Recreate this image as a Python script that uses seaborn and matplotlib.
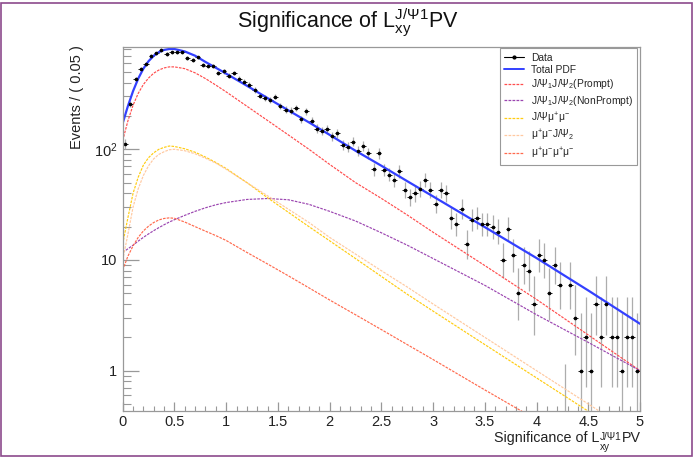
import numpy as np
import matplotlib
matplotlib.use('Agg')
import matplotlib.pyplot as plt
from matplotlib.lines import Line2D
from matplotlib.patches import Rectangle
from matplotlib.ticker import FixedLocator, MultipleLocator, LogLocator, NullFormatter
import seaborn as sns

# histogram: 100 bins of 0.05 between 0 and 5
bin_width = 0.05
counts = [112, 258, 430, 531, 589, 700, 734, 789, 726, 751,
          751, 751, 667, 644, 676, 581, 569, 569, 488, 505,
          462, 491, 433, 409, 384, 344, 305, 289, 281, 299,
          245, 228, 223, 235, 187, 220, 181, 154, 147, 152,
          131, 139, 109, 105, 117, 97, 107, 92, 66, 92,
          65, 59, 53, 63, 43, 37, 40, 44, 53, 43,
          32, 43, 40, 24, 21, 29, 14, 23, 24, 21,
          21, 20, 18, 10, 19, 11, 5, 9, 8, 4,
          11, 10, 5, 9, 6, 0, 6, 3, 1, 2,
          1, 4, 2, 4, 2, 2, 1, 2, 2, 1]

# fitted pdf curves (events / 0.05) read at these points
pdf_x = [0, 0.05, 0.1, 0.15, 0.2, 0.25, 0.3, 0.35, 0.4, 0.45, 0.5, 0.6, 0.7, 0.8, 0.9,
         1.0, 1.2, 1.4, 1.6, 1.8, 2.0, 2.25, 2.5, 2.75, 3.0, 3.5, 4.0, 4.5, 5.0]
total_pdf = [172, 245, 335, 435, 535, 625, 700, 755, 790, 805, 805, 765, 700, 615, 545,
             482, 375, 290, 225, 175, 135, 97, 71, 51.5, 37.5, 19.8, 10.4, 5.3, 2.65]
prompt = [120, 180, 250, 320, 385, 440, 487, 520, 543, 555, 555, 535, 490, 435, 380,
          330, 245, 182, 135, 100, 73, 50, 36, 25.5, 17.8, 8.9, 4.4, 2.1, 1.0]
nonprompt = [11.7, 12.6, 13.6, 14.8, 16.0, 17.2, 18.4, 19.6, 20.8, 22.0, 23.1, 25.3, 27.5, 29.6, 31.5,
             33.0, 35.2, 35.9, 35.0, 31.8, 27.5, 22.5, 17.6, 13.6, 10.3, 5.9, 3.2, 1.8, 1.0]
jpsi_mumu = [14, 24, 40, 56, 72, 84, 93, 100, 104, 107, 106, 101, 94, 85, 76,
             67, 50, 36.5, 27, 20, 14.9, 10.3, 7.1, 4.9, 3.45, 1.72, 0.86, 0.43, 0.22]
mumu_jpsi2 = [10, 17, 30, 44, 58, 71, 82, 90, 95, 99, 100, 97, 91, 83, 75,
              66, 50, 38, 28.8, 21.8, 16.0, 11.3, 8.0, 5.7, 4.0, 2.0, 1.0, 0.5, 0.25]
mu4 = [8.1, 10.8, 13.4, 16.0, 18.3, 20.2, 21.8, 23.0, 23.7, 24.0, 23.8, 22.0, 20.0, 18.2, 16.6,
       15.0, 11.7, 9.2, 7.2, 5.6, 4.35, 3.2, 2.35, 1.72, 1.26, 0.67, 0.36, 0.19, 0.1]

title = r'Significance of L$_{\mathrm{xy}}^{\mathrm{J/Ψ1}}$PV'

sns.set_style('ticks')
plt.rcParams['font.family'] = ['Liberation Sans', 'DejaVu Sans']
plt.rcParams['mathtext.fontset'] = 'custom'
plt.rcParams['mathtext.rm'] = 'Liberation Sans'
plt.rcParams['mathtext.it'] = 'Liberation Sans:italic'
plt.rcParams['mathtext.sf'] = 'Liberation Sans'

W, H = 699, 459
fig = plt.figure(figsize=(W / 100, H / 100), dpi=100)
ax = fig.add_axes([122.7 / W, 1 - 411 / H, (640 - 122.7) / W, (411 - 47.3) / H])

# data points with poisson errors
n = np.array(counts, dtype=float)
centers = bin_width * (np.arange(len(n)) + 0.5)
m = np.maximum(n, 1)
low = np.where(n > 0, n * (1 - 1 / (9 * m) - 1 / (3 * np.sqrt(m))) ** 3, 0.0)
high = np.where(n > 0, n + np.sqrt(n + 0.75) + 1, 1.148)
ax.errorbar(centers, n, yerr=[n - low, high - n], fmt='none', ecolor='0.68', elinewidth=0.9)
ax.errorbar(centers, n, xerr=bin_width / 2, fmt='o', color='black', ms=1.6,
            ecolor='#222222', elinewidth=0.7)

dash = (0, (2.2, 1.0))
curves = [
    (prompt, '#ff4d4d'),
    (nonprompt, '#9b45b0'),
    (jpsi_mumu, '#ffcc11'),
    (mumu_jpsi2, '#ffc9a0'),
    (mu4, '#ff6a4d'),
]
for vals, col in curves:
    sns.lineplot(x=pdf_x, y=vals, ax=ax, color=col, lw=0.85, linestyle=dash)
sns.lineplot(x=pdf_x, y=total_pdf, ax=ax, color='#3340ff', lw=1.6)

ax.set_yscale('log')
ax.set_xlim(0, 5)
ax.set_ylim(0.432, 834)
ax.xaxis.set_minor_locator(MultipleLocator(0.1))
ax.set_xticks([0, 0.5, 1, 1.5, 2, 2.5, 3, 3.5, 4, 4.5, 5])
ax.set_xticklabels(['0', '0.5', '1', '1.5', '2', '2.5', '3', '3.5', '4', '4.5', '5'])
ax.yaxis.set_major_locator(FixedLocator([1, 10, 100]))
ax.set_yticklabels(['1', '10', r'10$^{2}$'])
ax.yaxis.set_minor_locator(LogLocator(base=10, subs=np.arange(2, 10)))
ax.yaxis.set_minor_formatter(NullFormatter())
ax.tick_params(axis='both', which='both', direction='in', colors='#999999',
               labelcolor='#222222', labelsize=10.5, pad=4)
ax.tick_params(axis='x', which='major', pad=3)
ax.tick_params(axis='y', which='major', length=11.5, width=0.9)
ax.tick_params(axis='y', which='minor', length=6, width=0.8)
ax.tick_params(axis='x', which='major', length=6.7, width=0.9)
ax.tick_params(axis='x', which='minor', length=3.3, width=0.8)
for s in ax.spines.values():
    s.set_color('#999999')
    s.set_linewidth(0.9)
ax.set_xlabel('')
ax.set_ylabel('')

fig.text(348 / W, 1 - 28.3 / H, title, ha='center', va='baseline', fontsize=15.5, color='#111111')
fig.text(77 / W, 1 - 45 / H, 'Events / ( 0.05 )', rotation=90, ha='center', va='top',
         fontsize=10.5, color='#222222')

# x title built piece by piece, ROOT style (script letters kept close to the baseline)
base = 442
r = fig.canvas.get_renderer()
pv = fig.text(641 / W, 1 - base / H, 'PV', ha='right', va='baseline', fontsize=10.3, color='#222222')
x_pv = pv.get_window_extent(r).x0
sup = fig.text((x_pv - 0.5) / W, 1 - (base - 1.5) / H, 'J/Ψ1', ha='right', va='baseline',
               fontsize=7.2, color='#222222')
x_sup = sup.get_window_extent(r).x0
fig.text(x_sup / W, 1 - (base + 7.5) / H, 'xy', ha='left', va='baseline', fontsize=7.2, color='#222222')
fig.text((x_sup - 0.5) / W, 1 - base / H, 'Significance of L', ha='right', va='baseline',
         fontsize=10.3, color='#222222')

handles = [
    Line2D([], [], color='black', marker='o', ms=2, lw=0.8),
    Line2D([], [], color='#3340ff', lw=1.4),
    Line2D([], [], color='#ff4d4d', lw=0.9, linestyle=dash),
    Line2D([], [], color='#9b45b0', lw=0.9, linestyle=dash),
    Line2D([], [], color='#ffcc11', lw=0.9, linestyle=dash),
    Line2D([], [], color='#ffc9a0', lw=0.9, linestyle=dash),
    Line2D([], [], color='#ff6a4d', lw=0.9, linestyle=dash),
]
labels = ['Data', 'Total PDF', 'J/Ψ$_{1}$J/Ψ$_{2}$(Prompt)', 'J/Ψ$_{1}$J/Ψ$_{2}$(NonPrompt)',
          'J/Ψμ$^{+}$μ$^{-}$', 'μ$^{+}$μ$^{-}$J/Ψ$_{2}$', 'μ$^{+}$μ$^{-}$μ$^{+}$μ$^{-}$']
leg = ax.legend(handles, labels, loc='upper right', bbox_to_anchor=(0.9942, 0.997),
                borderaxespad=0, fontsize=7.4, frameon=True, fancybox=False, framealpha=1,
                edgecolor='#999999', handlelength=2.0, handletextpad=0.65, labelspacing=0.24,
                borderpad=0.4)
leg.get_frame().set_linewidth(0.8)

# canvas border
fig.patches.append(Rectangle((1 / W, 1 - 456 / H), 691 / W, 453 / H, transform=fig.transFigure,
                             fill=False, edgecolor='#8c4a8c', lw=1.2))

fig.savefig('out.png', dpi=100)
